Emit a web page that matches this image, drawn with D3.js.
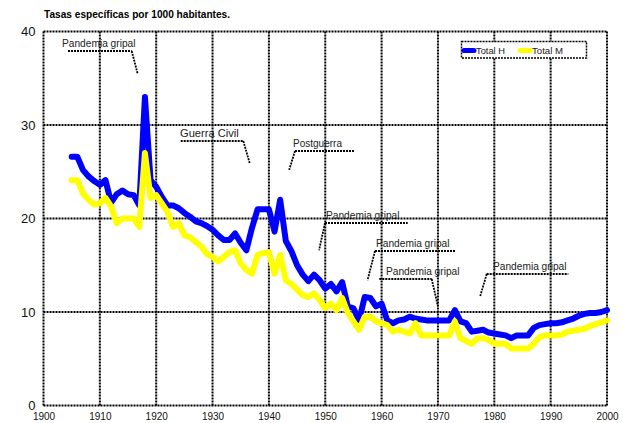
<!DOCTYPE html>
<html>
<head>
<meta charset="utf-8">
<script src="https://cdnjs.cloudflare.com/ajax/libs/d3/7.8.5/d3.min.js"></script>
<style>
  body { margin: 0; background: #fff; }
  svg { font-family: "Liberation Sans", Arial, sans-serif; display: block; }
</style>
</head>
<body>
<div id="viz"></div>
<script>
// years 1905 - 2000
const years = d3.range(1905, 2001);

const totalH = [26.6, 26.6, 25.2, 24.5, 24.0, 23.6, 24.1, 21.7, 22.6, 23.0,
  22.6, 22.5, 21.4, 33.0, 24.1, 23.4, 22.3, 21.4, 21.4, 21.1,
  20.6, 20.2, 19.7, 19.5, 19.2, 18.8, 18.2, 17.7, 17.7, 18.4,
  17.4, 16.6, 19.0, 21.0, 21.0, 21.0, 18.6, 22.0, 17.6, 16.5,
  15.0, 14.0, 13.3, 14.0, 13.4, 12.5, 13.0, 12.2, 13.2, 10.6,
  10.4, 9.1, 11.6, 11.5, 10.6, 10.9, 9.1, 8.8, 9.1, 9.2,
  9.5, 9.3, 9.2, 9.1, 9.1, 9.1, 9.1, 9.1, 10.2, 9.0,
  8.8, 7.9, 8.0, 8.1, 7.8, 7.7, 7.6, 7.5, 7.2, 7.5,
  7.5, 7.5, 8.3, 8.6, 8.7, 8.8, 8.8, 8.9, 9.1, 9.3,
  9.6, 9.8, 9.9, 9.9, 10.0, 10.2];

const totalM = [24.1, 24.1, 22.7, 22.0, 21.5, 21.6, 22.2, 21.3, 19.5, 20.0,
  20.0, 20.0, 19.1, 27.0, 22.2, 22.5, 21.6, 20.7, 19.1, 19.5,
  18.2, 18.0, 17.5, 17.0, 16.2, 15.9, 15.4, 15.9, 16.4, 16.6,
  15.2, 14.5, 14.1, 16.1, 16.3, 16.4, 14.1, 16.1, 13.4, 13.0,
  12.4, 11.8, 11.6, 12.0, 11.3, 10.4, 10.9, 10.2, 11.5, 9.9,
  9.0, 8.1, 9.5, 9.5, 9.0, 8.8, 8.6, 7.9, 8.1, 7.9,
  7.7, 8.8, 7.5, 7.5, 7.5, 7.5, 7.5, 7.5, 9.0, 7.2,
  6.9, 6.6, 7.2, 7.2, 7.0, 6.6, 6.6, 6.6, 6.1, 6.1,
  6.1, 6.1, 6.6, 7.3, 7.5, 7.5, 7.5, 7.6, 7.9, 8.0,
  8.1, 8.2, 8.5, 8.7, 8.9, 9.1];

const xTicks = d3.range(1900, 2001, 10);
const yTicks = [0, 10, 20, 30, 40];

// annotations: label, year / value the leader points at
const notes = ['Pandemia gripal', 'Guerra Civil', 'Postguerra', 'Pandemia gripal',
  'Pandemia gripal', 'Pandemia gripal', 'Pandemia gripal'];
const noteYear = [1916.7, 1936.6, 1943.6, 1948.9, 1957.5, 1970.0, 1977.5];
const noteVal = [35.5, 25.9, 25.2, 16.6, 13.4, 10.6, 11.7];

const w = 623;
const h = 423;
const mLeft = 43.5, mRight = 607, mTop = 31.5, mBottom = 405.5;

const svg = d3.select('#viz').
append('svg').
attr('width', w).
attr('height', h);

const xScale = d3.scaleLinear().
domain([1900, 2000]).
range([mLeft, mRight]);

const yScale = d3.scaleLinear().
domain([0, 40]).
range([mBottom, mTop]);

// grid
const grid = svg.append('g').
attr('stroke', '#000').
attr('stroke-width', 2).
attr('stroke-dasharray', '2,1').
attr('fill', 'none');

grid.selectAll('.vg').
data(xTicks).
enter().
append('line').
attr('x1', d => xScale(d)).
attr('x2', d => xScale(d)).
attr('y1', mTop).
attr('y2', mBottom);

grid.selectAll('.hg').
data(yTicks).
enter().
append('line').
attr('x1', mLeft).
attr('x2', mRight).
attr('y1', d => yScale(d)).
attr('y2', d => yScale(d));

// axes (labels only)
const xAxis = d3.axisBottom(xScale).tickValues(xTicks).tickFormat(d3.format('d')).tickSize(0).tickPadding(7);
svg.append('g').
attr('transform', 'translate(0,' + mBottom + ')').
attr('id', 'x-axis').
call(xAxis).
call(g => g.select('.domain').remove()).
call(g => g.selectAll('text').attr('font-size', 10).attr('font-family', 'Liberation Sans').attr('fill', '#111'));

const yAxis = d3.axisLeft(yScale).tickValues(yTicks).tickSize(0).tickPadding(8);
svg.append('g').
attr('transform', 'translate(' + mLeft + ',0)').
attr('id', 'y-axis').
call(yAxis).
call(g => g.select('.domain').remove()).
call(g => g.selectAll('text').attr('font-size', 13).attr('font-family', 'Liberation Sans').attr('fill', '#111'));

// title
svg.append('text').
attr('x', 44).
attr('y', 18).
attr('font-size', 10).
attr('font-weight', 'bold').
attr('textLength', 186).
attr('lengthAdjust', 'spacingAndGlyphs').
text('Tasas específicas por 1000 habitantes.');

// lines
const line = d3.line().
x((d, i) => xScale(years[i])).
y(d => yScale(d));

svg.append('path').
datum(totalH).
attr('fill', 'none').
attr('stroke', '#0000ff').
attr('stroke-width', 6).
attr('stroke-linejoin', 'round').
attr('stroke-linecap', 'round').
attr('d', line);

svg.append('path').
datum(totalM).
attr('fill', 'none').
attr('stroke', '#ffff00').
attr('stroke-width', 6).
attr('stroke-linejoin', 'round').
attr('stroke-linecap', 'round').
attr('d', line);

// annotation label positions (text baseline-left in px)
const noteX = [62, 180, 293, 326, 376, 386, 493];
const noteY = [47, 137, 147, 219, 247, 275, 270];
const lineFrom = [[68, 131.7], [180.7, 243.3], [295, 354], [325, 407.7], [375, 456], [379.3, 431.7], [486.7, 568.3]];
const joinRight = [true, true, false, false, false, true, false];

const ann = svg.append('g');
notes.forEach((n, i) => {
  const uy = noteY[i] + 4;
  ann.append('text').
  attr('x', noteX[i]).
  attr('y', noteY[i]).
  attr('font-size', 11).
  attr('fill', '#222').
  attr('textLength', n.length * 4.9).
  attr('lengthAdjust', 'spacingAndGlyphs').
  text(n);
  ann.append('line').
  attr('x1', lineFrom[i][0]).
  attr('x2', lineFrom[i][1]).
  attr('y1', uy).
  attr('y2', uy).
  attr('stroke', '#000').
  attr('stroke-width', 1.8).
  attr('stroke-dasharray', '2,1');
  const sx = joinRight[i] ? lineFrom[i][1] : lineFrom[i][0];
  ann.append('line').
  attr('x1', sx).
  attr('y1', uy).
  attr('x2', xScale(noteYear[i])).
  attr('y2', yScale(noteVal[i])).
  attr('stroke', '#000').
  attr('stroke-width', 1.8).
  attr('stroke-dasharray', '2,1');
});

// legend
const lg = svg.append('g');
lg.append('rect').
attr('x', 461.5).
attr('y', 41.5).
attr('width', 125).
attr('height', 16.5).
attr('fill', '#fff').
attr('stroke', '#000').
attr('stroke-width', 1.5).
attr('stroke-dasharray', '2,1');

const legNames = ['Total H', 'Total M'];
const legColors = ['#0000ff', '#ffff00'];
const legX = [464, 520];
legNames.forEach((n, i) => {
  lg.append('line').
  attr('x1', legX[i]).
  attr('x2', legX[i] + 10).
  attr('y1', 50.5).
  attr('y2', 50.5).
  attr('stroke', legColors[i]).
  attr('stroke-width', 5).
  attr('stroke-linecap', 'round');
  lg.append('text').
  attr('x', legX[i] + 12).
  attr('y', 54).
  attr('font-size', 9.5).
  attr('fill', '#222').
  attr('textLength', i === 0 ? 29 : 31).
  attr('lengthAdjust', 'spacingAndGlyphs').
  text(n);
});
</script>
</body>
</html>
